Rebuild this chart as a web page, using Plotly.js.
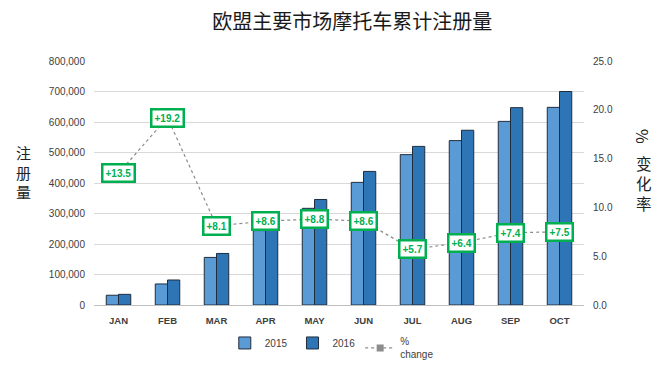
<!DOCTYPE html>
<html>
<head>
<meta charset="utf-8">
<script src="https://cdn.plot.ly/plotly-3.0.1.min.js"></script>
<style>body{margin:0;background:#fff}#chart{width:671px;height:367px}</style>
</head>
<body>
<div id="chart"></div>
<script>
var months = ['JAN','FEB','MAR','APR','MAY','JUN','JUL','AUG','SEP','OCT'];
var reg2015 = [32000, 69000, 156000, 244000, 317000, 402000, 493000, 539000, 602000, 648000];
var reg2016 = [35000, 82000, 169000, 265000, 346000, 438000, 520000, 573000, 647000, 700000];
var pctChange = [13.5, 19.2, 8.1, 8.6, 8.8, 8.6, 5.7, 6.4, 7.4, 7.5];
var leftTitleChars = ['注','册','量'];
var rightTitleChars = ['变','化','率'];

var green = '#00b050';
var traces = [
  {type:'bar', name:'2015', x:months, y:reg2015,
   marker:{color:'#5b9bd5', line:{color:'#1f2d3d', width:1}}},
  {type:'bar', name:'2016', x:months, y:reg2016,
   marker:{color:'#2e75b6', line:{color:'#1f2d3d', width:1}}},
  {type:'scatter', mode:'lines+markers', name:'%<br>change', x:months, y:pctChange, yaxis:'y2',
   line:{color:'#8c8c8c', width:1.2, dash:'dot'},
   marker:{symbol:'square', size:7, color:'#8c8c8c'}}
];

// plot area: x 94..584, y 61..305
function py(pix){ return (305 - pix) / 244; }
function px(pix){ return (pix - 94) / 490; }

var annotations = months.map(function(m, i){
  return {x:m, y:pctChange[i], xref:'x', yref:'y2', showarrow:false,
    text:'<b>+' + pctChange[i].toFixed(1) + '</b>',
    font:{family:'Liberation Sans, Arial', size:10, color:green},
    bgcolor:'#ffffff', bordercolor:green, borderwidth:2.5, borderpad:2};
});
annotations.push({xref:'paper', yref:'paper', x:px(23), y:py(172), xanchor:'center', yanchor:'middle',
  showarrow:false, text:leftTitleChars.join('<br>'),
  font:{family:'Noto Sans CJK SC', size:15, color:'#222'}});
annotations.push({xref:'paper', yref:'paper', x:px(643), y:py(136), xanchor:'center', yanchor:'middle',
  showarrow:false, textangle:90, text:'%',
  font:{family:'Noto Sans CJK SC', size:16, color:'#222'}});
annotations.push({xref:'paper', yref:'paper', x:px(644), y:py(183), xanchor:'center', yanchor:'middle',
  showarrow:false, text:rightTitleChars.join('<br>'),
  font:{family:'Noto Sans CJK SC', size:15.5, color:'#222'}});

var layout = {
  width:671, height:367,
  margin:{l:94, r:87, t:61, b:62},
  paper_bgcolor:'#ffffff', plot_bgcolor:'#ffffff',
  title:{text:'欧盟主要市场摩托车累计注册量', x:0.525, xanchor:'center', y:0.94, yanchor:'middle',
    font:{family:'Noto Sans CJK SC', size:20, color:'#1a1a1a'}},
  barmode:'group', bargap:0.5, bargroupgap:0,
  xaxis:{type:'category', range:[-0.5, 9.5], automargin:false, showgrid:false, showline:false, zeroline:false,
    ticklabelstandoff:8,
    tickfont:{family:'Liberation Sans, Arial', size:9.5, color:'#404040', weight:'bold'}},
  yaxis:{range:[0,800000], dtick:100000, tickformat:',d', showgrid:true, gridcolor:'#d9d9d9', automargin:false,
    zeroline:true, zerolinecolor:'#bfbfbf', showline:false, ticklabelstandoff:8,
    tickfont:{family:'Liberation Sans, Arial', size:10, color:'#404040'}},
  yaxis2:{overlaying:'y', side:'right', range:[0,25], dtick:5, tickformat:'.1f', showgrid:false, automargin:false,
    zeroline:false, showline:false, ticklabelstandoff:8,
    tickfont:{family:'Liberation Sans, Arial', size:10, color:'#404040'}},
  legend:{orientation:'h', xref:'container', yref:'container', x:0.335, y:0.105, xanchor:'left', yanchor:'top',
    font:{family:'Liberation Sans, Arial', size:10, color:'#404040'}, itemwidth:30, tracegroupgap:0},
  showlegend:true,
  annotations:annotations
};

Plotly.newPlot('chart', traces, layout, {displayModeBar:false, staticPlot:true});
</script>
</body>
</html>
